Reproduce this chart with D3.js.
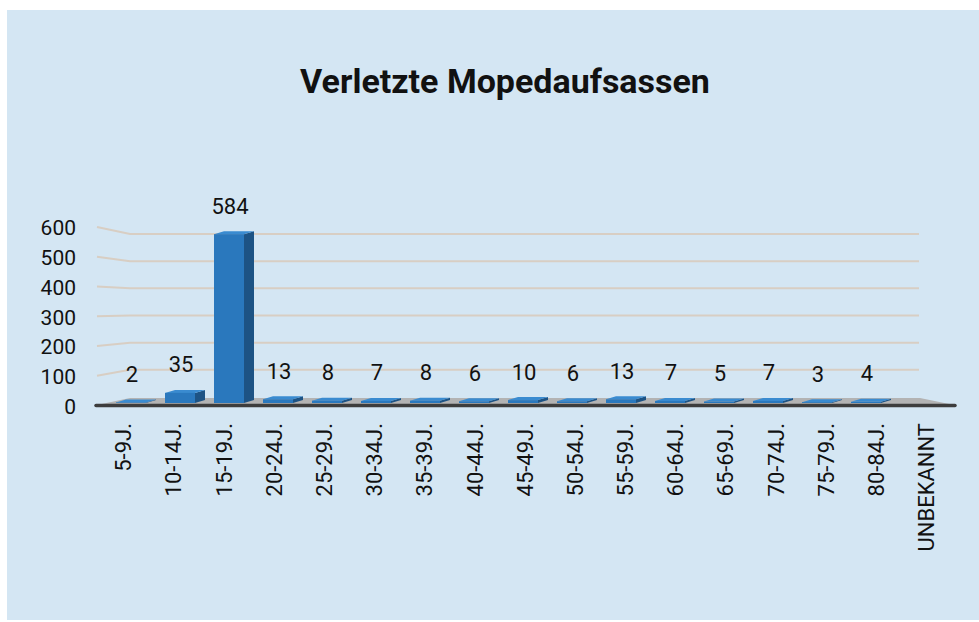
<!DOCTYPE html>
<html>
<head>
<meta charset="utf-8">
<script src="https://cdn.jsdelivr.net/npm/d3@7"></script>
<style>
  html, body { margin: 0; padding: 0; background: #ffffff; }
  svg { display: block; }
</style>
</head>
<body>
<svg id="chart" width="979" height="622"></svg>
<script>
// ---- data ----
const title = "Verletzte Mopedaufsassen";
const categories = ["5-9J.", "10-14J.", "15-19J.", "20-24J.", "25-29J.", "30-34J.", "35-39J.", "40-44J.", "45-49J.", "50-54J.", "55-59J.", "60-64J.", "65-69J.", "70-74J.", "75-79J.", "80-84J.", "UNBEKANNT"];
const values = [2, 35, 584, 13, 8, 7, 8, 6, 10, 6, 13, 7, 5, 7, 3, 4, null];
const yTicks = [0, 100, 200, 300, 400, 500, 600];

const svg = d3.select("#chart");
const font = "Roboto, 'Open Sans', sans-serif";

// background panel
svg.append("rect").attr("x", 7).attr("y", 10).attr("width", 972).attr("height", 610).attr("fill", "#d4e6f3");

// title
svg.append("text").attr("x", 505).attr("y", 93).attr("text-anchor", "middle")
  .attr("font-family", font).attr("font-weight", "bold").attr("font-size", 34)
  .attr("fill", "#111").text(title);

// scales
const yFront = d3.scaleLinear().domain([0, 600]).range([405.5, 227]);
const yBack = d3.scaleLinear().domain([0, 600]).range([397, 234]);
const yBar = d3.scaleLinear().domain([0, 600]).range([403, 229.5]);
const xAxis = d3.scalePoint().domain(categories).range([123.5, 926.5]);
const xBar = d3.scalePoint().domain(categories).range([132, 916]);

const wallX0 = 97, wallX1 = 130, gridEnd = 919;

// gridlines (left wall slanted + back wall horizontal)
const grid = svg.append("g");
yTicks.filter(t => t > 0).forEach(t => {
  grid.append("path")
    .attr("d", d3.line()([[wallX0, yFront(t)], [wallX1, yBack(t)], [gridEnd, yBack(t)]]))
    .attr("fill", "none").attr("stroke", "#d8cec3").attr("stroke-width", 2);
});

// floor
svg.append("path")
  .attr("d", d3.line()([[wallX0, 405], [wallX1, 398], [920, 398], [954, 405]]) + "Z")
  .attr("fill", "#b3b3b3");

// y tick labels
svg.append("g").selectAll("text").data(yTicks).join("text")
  .attr("x", 76).attr("y", d => yFront(d) + 1).attr("dy", "0.35em")
  .attr("text-anchor", "end").attr("font-family", font).attr("font-size", 21)
  .attr("fill", "#111").text(d => d);

// bars
const bw = 30, dx = 10, dy = -3;
const barData = categories.map((c, i) => ({ c, v: values[i] })).filter(d => d.v != null);
const bars = svg.append("g").selectAll("g").data(barData).join("g");
bars.each(function(d) {
  const g = d3.select(this);
  const x0 = xBar(d.c) - 1 - bw / 2, x1 = x0 + bw;
  const yt = yBar(d.v), yb = yBar(0);
  // side
  g.append("path").attr("d", d3.line()([[x1, yt], [x1 + dx, yt + dy], [x1 + dx, yb + dy], [x1, yb]]) + "Z")
    .attr("fill", "#1d5384");
  // top
  g.append("path").attr("d", d3.line()([[x0, yt], [x1, yt], [x1 + dx, yt + dy], [x0 + dx, yt + dy]]) + "Z")
    .attr("fill", "#3a8bd0");
  // front
  g.append("rect").attr("x", x0).attr("y", yt).attr("width", bw).attr("height", Math.max(0, yb - yt))
    .attr("fill", "#2a78bd");
});

// base line
svg.append("line").attr("x1", 96).attr("x2", 955).attr("y1", 405.5).attr("y2", 405.5)
  .attr("stroke", "#3d3d3d").attr("stroke-width", 3.5).attr("stroke-linecap", "round");

// value labels
svg.append("g").selectAll("text").data(barData).join("text")
  .attr("x", d => xBar(d.c)).attr("y", d => yBar(d.v) - 20.5)
  .attr("text-anchor", "middle").attr("font-family", font).attr("font-size", 22)
  .attr("fill", "#111").text(d => d.v);

// x axis labels (rotated)
svg.append("g").selectAll("text").data(categories).join("text")
  .attr("transform", d => `translate(${xAxis(d)},423) rotate(-90)`)
  .attr("dy", "0.35em").attr("text-anchor", "end")
  .attr("font-family", font).attr("font-size", 22).attr("fill", "#111")
  .text(d => d);
</script>
</body>
</html>
